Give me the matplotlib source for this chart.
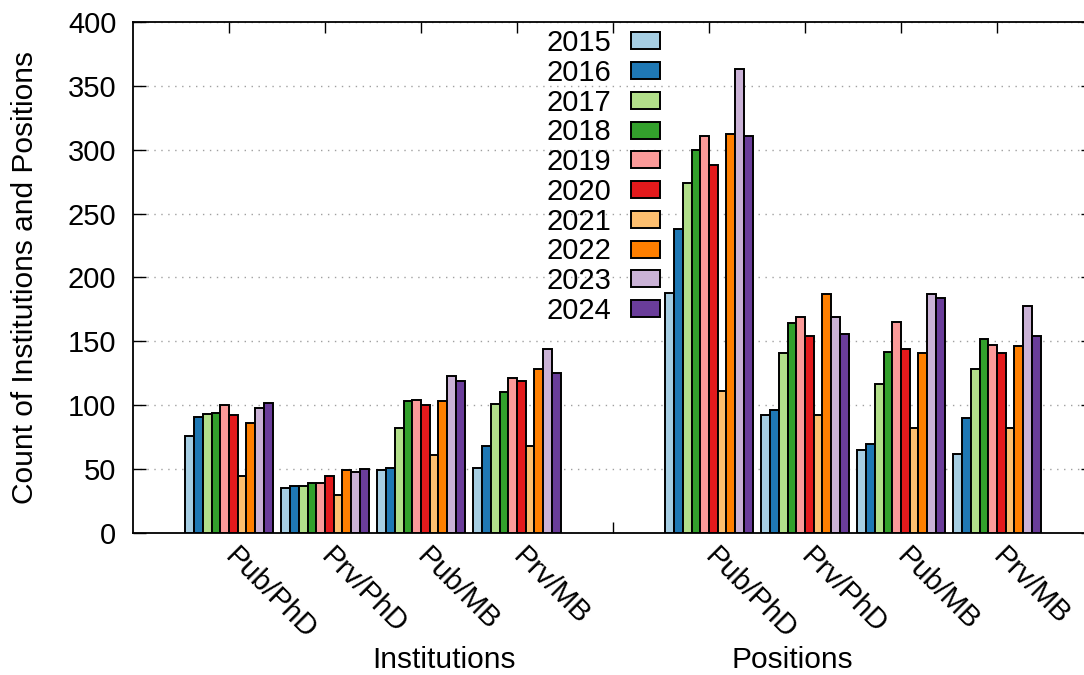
import matplotlib
matplotlib.use("Agg")
import matplotlib.pyplot as plt
from matplotlib.transforms import blended_transform_factory
import numpy as np

plt.rcParams["font.family"] = ["Liberation Sans", "DejaVu Sans"]

years = ["2015", "2016", "2017", "2018", "2019", "2020", "2021", "2022", "2023", "2024"]
colors = ["#a6cee3", "#1f78b4", "#b2df8a", "#33a02c", "#fb9a99",
          "#e31a1c", "#fdbf6f", "#ff7f00", "#cab2d6", "#6a3d9a"]
categories = ["Pub/PhD", "Prv/PhD", "Pub/MB", "Prv/MB"]

# counts per year (2015..2024) for each category
inst_pub_phd = [76, 91, 93, 94, 100, 92, 45, 86, 98, 102]
inst_prv_phd = [35, 37, 37, 39, 39, 45, 30, 49, 48, 50]
inst_pub_mb = [49, 51, 82, 103, 104, 100, 61, 103, 123, 119]
inst_prv_mb = [51, 68, 101, 110, 121, 119, 68, 128, 144, 125]

pos_pub_phd = [188, 238, 274, 300, 311, 288, 111, 312, 363, 311]
pos_prv_phd = [92, 96, 141, 164, 169, 154, 92, 187, 169, 156]
pos_pub_mb = [65, 70, 117, 142, 165, 144, 82, 141, 187, 184]
pos_prv_mb = [62, 90, 128, 152, 147, 141, 82, 146, 178, 154]

groups = [inst_pub_phd, inst_prv_phd, inst_pub_mb, inst_prv_mb,
          pos_pub_phd, pos_prv_phd, pos_pub_mb, pos_prv_mb]
# one empty slot between the two blocks
group_x = np.array([0, 1, 2, 3, 5, 6, 7, 8])
values = np.array(groups)

fig = plt.figure(figsize=(10.84, 6.75), dpi=100)
ax = fig.add_axes([133 / 1084, 142 / 675, 960 / 1084, 511 / 675])

bar_w = 1 / 11
for i, year in enumerate(years):
    ax.bar(group_x + (i - 4.5) * bar_w, values[:, i], width=bar_w,
           color=colors[i], edgecolor="black", linewidth=1.4, label=year, zorder=3)

ax.set_xlim(-1, 9)
ax.set_ylim(0, 400)
ax.set_yticks(np.arange(0, 401, 50))
ax.set_axisbelow(True)
ax.yaxis.grid(True, linestyle=(0, (1, 4)), color="#a0a0a0", linewidth=1.0)

ax.set_xticks(np.arange(0, 9))
ax.set_xticklabels(categories + [""] + categories, rotation=-45,
                   rotation_mode="anchor", ha="left", va="center")
ax.tick_params(axis="x", direction="in", top=True, length=8, width=1, pad=14, labelsize=21)
ax.tick_params(axis="y", direction="in", right=True, length=9, width=1, pad=12, labelsize=21)
for sp in ax.spines.values():
    sp.set_linewidth(1.3)

ax.set_ylabel("Count of Institutions and Positions", fontsize=21.5)
ax.yaxis.set_label_coords(-0.098, 0.5)

trans = blended_transform_factory(ax.transData, fig.transFigure)
ax.text(2.24, 0.022, "Institutions", transform=trans, ha="center", va="center", fontsize=21.5)
ax.text(5.865, 0.022, "Positions", transform=trans, ha="center", va="center", fontsize=21.5)

ax.legend(loc="upper right", bbox_to_anchor=(0.549, 0.986), frameon=False, fontsize=21,
          markerfirst=False, borderpad=0, handlelength=1.0, handleheight=0.52,
          handletextpad=0.68, labelspacing=0.06, borderaxespad=0)

fig.savefig("out.png", dpi=100)
